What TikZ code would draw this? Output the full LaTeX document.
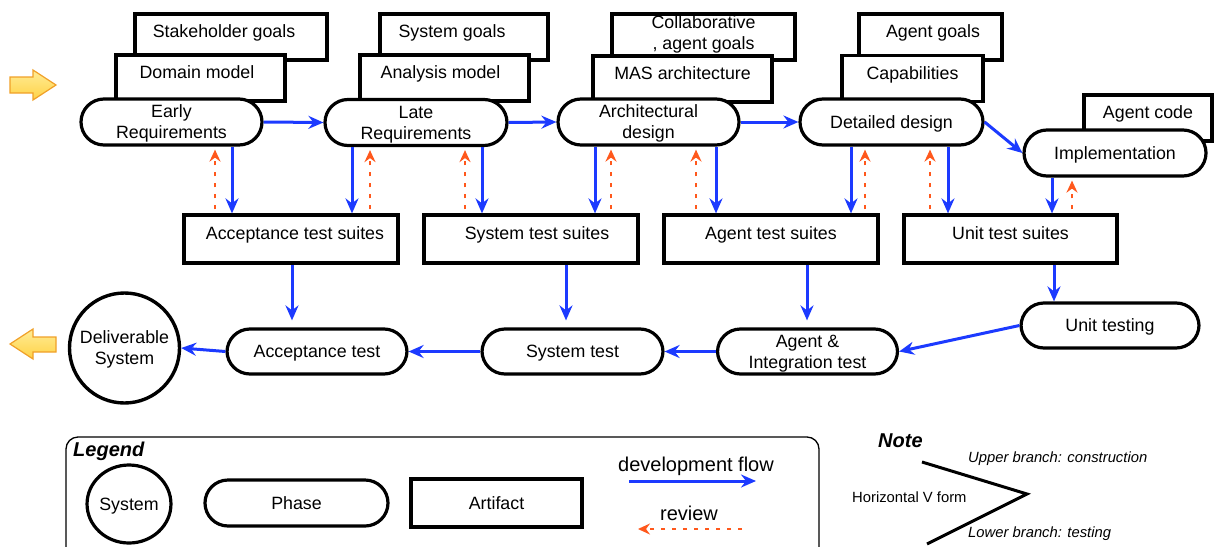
\documentclass[tikz,border=0pt]{standalone}
\usepackage{fontspec}
\setmainfont{Liberation Sans}
\usetikzlibrary{arrows.meta,shapes.geometric}

\definecolor{flowblue}{RGB}{28,58,255}
\definecolor{revorange}{RGB}{255,88,28}
\definecolor{hinttop}{RGB}{255,236,150}
\definecolor{hintbot}{RGB}{255,210,70}
\definecolor{hintedge}{RGB}{240,160,40}

\tikzset{
  lbl/.style={font=\fontsize{17.8pt}{21pt}\selectfont},
  artifact/.style={lbl, draw, line width=3.2pt, fill=white, minimum height=46pt,
    text height=12.8pt, text depth=11pt, inner sep=0pt, align=center},
  twoartifact/.style={text height=33.8pt, text depth=8pt},
  phase/.style={lbl, draw, line width=3.2pt, fill=white, rounded corners=23pt,
    minimum height=46pt, align=center, text height=12.8pt, text depth=0pt, inner sep=0pt},
  twoline/.style={text height=33.8pt, text depth=0pt},
  sysnode/.style={lbl, draw, line width=3.4pt, fill=white, circle, align=center,
    text height=33.8pt, text depth=0pt, inner sep=0pt},
  devflow/.style={draw=flowblue, line width=3pt,
    -{Stealth[length=15pt,width=13pt,inset=5pt]}},
  reviewflow/.style={draw=revorange, line width=2.6pt, dash pattern=on 4pt off 7pt,
    -{Stealth[length=12pt,width=11pt,inset=4pt]}},
  hintarrow/.style={draw=hintedge, line width=1.2pt, top color=hinttop, bottom color=hintbot},
  notetext/.style={font=\fontsize{14.8pt}{17pt}\selectfont\itshape, anchor=west, inner sep=0pt},
  heading/.style={font=\fontsize{20pt}{24pt}\selectfont\bfseries\itshape, anchor=west, inner sep=0pt},
  legendtext/.style={font=\fontsize{20pt}{24pt}\selectfont, inner sep=0pt},
}

\begin{document}
\begin{tikzpicture}[x=1pt,y=-1pt]
\useasboundingbox (0,0) rectangle (1214,546);
\clip (0,0) rectangle (1214,546);

% entry and exit hints
\path[hintarrow] (10,77) -- (33,77) -- (33,70) -- (56,85) -- (33,100) -- (33,93) -- (10,93) -- cycle;
\path[hintarrow] (56,337) -- (33,337) -- (33,329) -- (10,344) -- (33,359) -- (33,352) -- (56,352) -- cycle;

% construction branch: artifacts stacked behind each phase
\node[artifact, minimum width=192pt] (stake) at (231,37) {Stakeholder goals\kern14pt};
\node[artifact, minimum width=169pt] (domain) at (200.5,78) {Domain model\kern7pt};
\node[phase, twoline, minimum width=181pt] (early) at (171.5,122) {Early\\Requirements};

\node[artifact, minimum width=168pt] (sysgoals) at (464,37) {System goals\kern24pt};
\node[artifact, minimum width=169pt] (analysis) at (444.5,78) {Analysis model\kern8pt};
\node[phase, twoline, minimum width=182pt] (late) at (416,122.5) {Late\\Requirements};

\node[artifact, twoartifact, minimum width=183pt] (collab) at (703.5,37) {Collaborative\\, agent goals};
\node[artifact, minimum width=179pt] (mas) at (682.5,79) {MAS architecture};
\node[phase, twoline, minimum width=181pt] (arch) at (648.5,122) {Architectural\\design};

\node[artifact, minimum width=143pt] (agoals) at (930.5,37) {\kern5pt Agent goals};
\node[artifact, minimum width=141pt] (capab) at (912.5,78.5) {Capabilities};
\node[phase, minimum width=183pt] (detail) at (891.5,122) {Detailed design};

\node[artifact, minimum width=128pt] (agcode) at (1148,118) {Agent code};
\node[phase, minimum width=182pt] (impl) at (1115,153) {Implementation};

% test suites
\node[artifact, minimum width=214pt, minimum height=48pt] (ats) at (291,239) {\kern8pt Acceptance test suites};
\node[artifact, minimum width=214pt, minimum height=48pt] (sts) at (531,239) {\kern12pt System test suites};
\node[artifact, minimum width=214pt, minimum height=48pt] (agts) at (771,239) {Agent test suites};
\node[artifact, minimum width=213pt, minimum height=48pt] (uts) at (1010.5,239) {Unit test suites};

% testing branch
\node[sysnode, minimum size=110pt] (deliv) at (124.5,348) {Deliverable\\System};
\node[phase, minimum width=180pt, minimum height=45pt] (acct) at (317,351.5) {Acceptance test};
\node[phase, minimum width=181pt, minimum height=45pt] (syst) at (572.5,351.5) {System test};
\node[phase, twoline, minimum width=180pt, minimum height=45pt] (agint) at (807.5,351.5) {Agent \&\\Integration test};
\node[phase, minimum width=178pt, minimum height=45pt] (unitt) at (1110,325.5) {Unit testing};

% phase to phase flow
\draw[devflow] (early.east) -- (late.west);
\draw[devflow] (late.east) -- (arch.west);
\draw[devflow] (arch.east) -- (detail.west);
\draw[devflow] (detail.east) -- (impl.west);

% phases produce test suites, suites are reviewed back
\draw[devflow] (early.south -| 232,0) -- (ats.north -| 232,0);
\draw[reviewflow, shorten <=4pt, shorten >=3pt] (ats.north -| 215,0) -- (early.south -| 215,0);
\draw[devflow] (late.south -| 352,0) -- (ats.north -| 352,0);
\draw[reviewflow, shorten <=4pt, shorten >=3pt] (ats.north -| 370,0) -- (late.south -| 370,0);
\draw[reviewflow, shorten <=4pt, shorten >=3pt] (sts.north -| 465,0) -- (late.south -| 465,0);
\draw[devflow] (late.south -| 482,0) -- (sts.north -| 482,0);
\draw[devflow] (arch.south -| 595,0) -- (sts.north -| 595,0);
\draw[reviewflow, shorten <=4pt, shorten >=3pt] (sts.north -| 611,0) -- (arch.south -| 611,0);
\draw[reviewflow, shorten <=4pt, shorten >=3pt] (agts.north -| 696,0) -- (arch.south -| 696,0);
\draw[devflow] (arch.south -| 716,0) -- (agts.north -| 716,0);
\draw[devflow] (detail.south -| 851,0) -- (agts.north -| 851,0);
\draw[reviewflow, shorten <=4pt, shorten >=3pt] (agts.north -| 865,0) -- (detail.south -| 865,0);
\draw[reviewflow, shorten <=4pt, shorten >=3pt] (uts.north -| 930,0) -- (detail.south -| 930,0);
\draw[devflow] (detail.south -| 948,0) -- (uts.north -| 948,0);
\draw[devflow] (impl.south -| 1052,0) -- (uts.north -| 1052,0);
\draw[reviewflow, shorten <=4pt, shorten >=3pt] (uts.north -| 1072,0) -- (impl.south -| 1072,0);

% suites feed the test phases
\draw[devflow, shorten >=7pt] (ats.south -| 292,0) -- (acct.north -| 292,0);
\draw[devflow, shorten >=7pt] (sts.south -| 566,0) -- (syst.north -| 566,0);
\draw[devflow, shorten >=7pt] (agts.south -| 807,0) -- (agint.north -| 807,0);
\draw[devflow] (uts.south -| 1054,0) -- (unitt.north -| 1054,0);

% testing flow back to delivery
\draw[devflow] (unitt.west) -- (agint.east);
\draw[devflow] (agint.west) -- (syst.east);
\draw[devflow] (syst.west) -- (acct.east);
\draw[devflow] (acct.west) -- (deliv.east);

% legend
\draw[line width=1.3pt, rounded corners=12pt] (66,437) rectangle (819,570);
\node[heading] (legendtitle) at (73,451) {Legend};
\node[lbl, draw, line width=3.2pt, ellipse, minimum width=82pt, minimum height=78pt, inner sep=0pt,
  text height=12.8pt, text depth=0pt] (legsys) at (129,504) {System};
\node[phase, minimum width=183pt] (legphase) at (296.5,503) {Phase};
\node[lbl, draw, line width=3.2pt, minimum width=171pt, minimum height=48pt, inner sep=0pt,
  text height=12.8pt, text depth=0pt] (legart) at (496.5,503) {Artifact};
\node[legendtext] (legflowtext) at (696,466) {development flow};
\coordinate (flowa) at (629,481);
\coordinate (flowb) at (756,481);
\draw[devflow] (flowa) -- (flowb);
\node[legendtext] (legrevtext) at (689,513) {review};
\coordinate (reva) at (742,529);
\coordinate (revb) at (638,529);
\draw[reviewflow] (reva) -- (revb);

% note on the horizontal V
\node[heading] (notetitle) at (878,441) {Note};
\coordinate (vtop) at (922,462);
\coordinate (vtip) at (1027,494);
\coordinate (vbot) at (927,544);
\draw[line width=3pt] (vtop) -- (vtip) -- (vbot);
\node[notetext] (upper) at (968,459) {Upper branch: construction};
\node[notetext, font=\fontsize{14.8pt}{17pt}\selectfont] (vform) at (852,497) {Horizontal V form};
\node[notetext] (lower) at (968,534) {Lower branch: testing};
\end{tikzpicture}
\end{document}
